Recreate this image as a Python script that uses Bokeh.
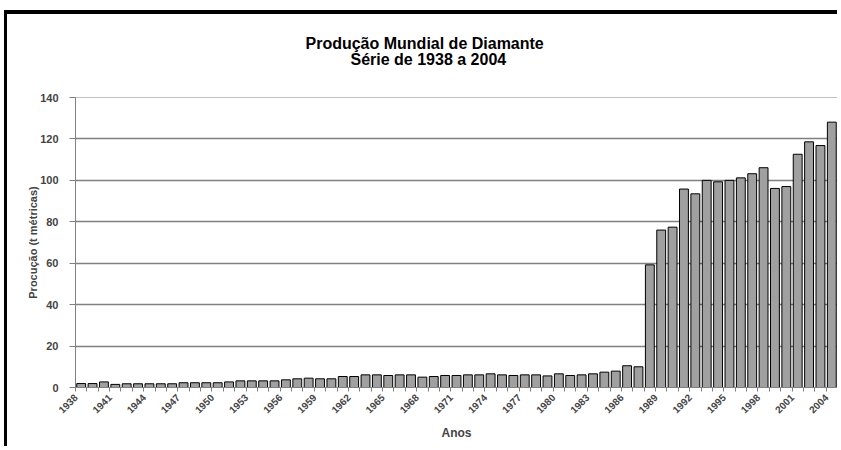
import math
from bokeh.plotting import figure
from bokeh.models import Range1d, FixedTicker, Title, ColumnDataSource
from bokeh.embed import file_html
from bokeh.resources import INLINE

# ---- data ----
years = list(range(1938, 2005))
production = [
    1.9, 1.9, 2.7, 1.5, 1.8, 1.8, 1.8, 1.8, 1.8, 2.3,
    2.3, 2.3, 2.3, 2.7, 3.2, 3.2, 3.2, 3.2, 3.7, 4.2,
    4.5, 4.2, 4.2, 5.3, 5.3, 6.1, 6.1, 5.8, 6.1, 6.1,
    5.0, 5.3, 5.8, 5.8, 6.1, 6.1, 6.6, 6.1, 5.8, 6.1,
    6.1, 5.6, 6.6, 5.8, 6.1, 6.6, 7.4, 7.9, 10.5, 10.0,
    59.2, 76.0, 77.4, 95.8, 93.5, 100.0, 99.3, 100.0, 101.2, 103.2,
    106.1, 96.1, 97.0, 112.6, 118.6, 116.8, 128.1,
]
tick_years = [1938, 1941, 1944, 1947, 1950, 1953, 1956, 1959, 1962, 1965,
              1968, 1971, 1974, 1977, 1980, 1983, 1986, 1989, 1992, 1995,
              1998, 2001, 2004]
y_ticks = [0, 20, 40, 60, 80, 100, 120, 140]
title_line1 = "Produção Mundial de Diamante"
title_line2 = "Série de 1938 a 2004"
y_label = "Procução (t métricas)"
x_label = "Anos"

FONT = "Liberation Sans"
LABEL_SHIFT = 0.49   # rotated year labels end a little left of the bar centre

source = ColumnDataSource(data=dict(year=years, value=production))

p = figure(
    width=833, height=436,
    output_backend="svg", toolbar_location=None,
    x_range=Range1d(years[0] - 0.5, years[-1] + 0.5),
    y_range=Range1d(y_ticks[0], y_ticks[-1]),
    min_border_left=68, min_border_right=3,
    min_border_top=83, min_border_bottom=63,
    title=None,
)
p.styles = {"border-left": "3px solid black", "border-top": "4px solid black",
            "margin-left": "4px", "margin-top": "10px"}

p.vbar(x="year", top="value", width=0.78, source=source,
       fill_color="#a0a0a0", line_color="#000000", line_width=1)

# two title lines; standoffs tuned so line 2 sits ~32px above the frame
t2 = Title(text=title_line2, align="left", offset=275, standoff=60,
           text_font=FONT, text_font_size="16px", text_font_style="bold",
           text_color="#000000")
t1 = Title(text=title_line1, align="left", offset=230, standoff=-66,
           text_font=FONT, text_font_size="16px", text_font_style="bold",
           text_color="#000000")
p.add_layout(t2, "above")
p.add_layout(t1, "above")

# frame
p.outline_line_color = "#c0c0c0"
p.outline_line_width = 1
p.background_fill_color = "#ffffff"
p.border_fill_color = "#ffffff"

# grid
p.xgrid.grid_line_color = None
p.ygrid.grid_line_color = "#808080"
p.ygrid.grid_line_width = 1.3

# y axis
yax = p.yaxis[0]
yax.ticker = FixedTicker(ticks=y_ticks)
yax.axis_label = y_label
yax.axis_label_text_font = FONT
yax.axis_label_text_font_size = "11px"
yax.axis_label_text_font_style = "bold"
yax.axis_label_standoff = -2
yax.major_label_text_font = FONT
yax.major_label_text_font_size = "11px"
yax.major_label_text_font_style = "bold"
yax.major_label_standoff = 11
yax.axis_line_color = "#808080"
yax.major_tick_line_color = "#808080"
yax.major_tick_out = 6
yax.major_tick_in = 0
yax.minor_tick_line_color = None

# x axis
xax = p.below[0]
boundaries = [y - 0.5 for y in years] + [years[-1] + 0.5]
label_pos = [y - LABEL_SHIFT for y in tick_years]
xax.ticker = FixedTicker(ticks=label_pos, minor_ticks=boundaries)
xax.major_label_overrides = {pos: str(y) for pos, y in zip(label_pos, tick_years)}
xax.major_label_orientation = math.pi / 4
xax.major_label_text_font = FONT
xax.major_label_text_font_size = "10px"
xax.major_label_text_font_style = "bold"
xax.major_label_standoff = 4
xax.major_tick_line_color = None
xax.major_tick_out = 4
xax.major_tick_in = 0
xax.minor_tick_line_color = "#808080"
xax.minor_tick_out = 4
xax.minor_tick_in = 0
xax.axis_line_color = "#808080"
xax.axis_label = x_label
xax.axis_label_text_font = FONT
xax.axis_label_text_font_size = "12px"
xax.axis_label_text_font_style = "bold"
xax.axis_label_standoff = 6

open("out.html", "w").write(file_html(p, INLINE))
